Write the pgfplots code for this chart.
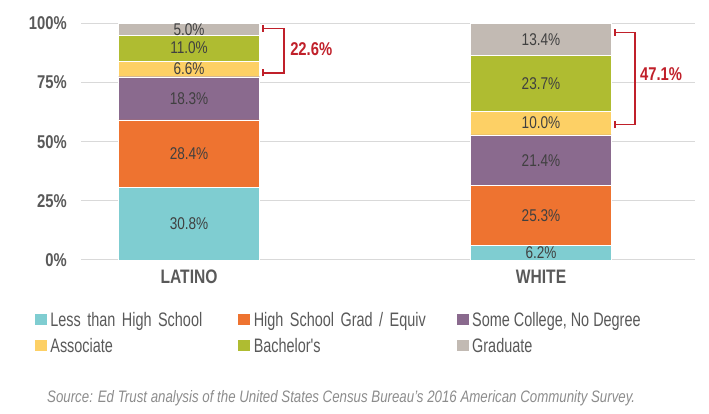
\documentclass[border=0pt]{standalone}
\usepackage{fontspec}
\setmainfont{Liberation Sans}[FakeStretch=0.8]
\newfontfamily\legfont{Liberation Sans}[FakeStretch=0.74]
\usepackage{pgfplots}
\usepackage{pgfplotstable}
\pgfplotsset{compat=1.18}
\definecolor{cLt}{HTML}{7FCDD1}
\definecolor{cHs}{HTML}{EE7330}
\definecolor{cSc}{HTML}{8A6A8E}
\definecolor{cAs}{HTML}{FDD065}
\definecolor{cBa}{HTML}{AFBC31}
\definecolor{cGr}{HTML}{C2BAB3}
\definecolor{labgray}{HTML}{404040}
\definecolor{tickgray}{HTML}{595959}
\definecolor{gridgray}{HTML}{D9D9D9}
\definecolor{annred}{HTML}{C0202A}
\definecolor{srcgray}{HTML}{8C8C8C}
\pgfplotstableread{
x lt hs sc as ba gr
0 30.8 28.4 18.3 6.6 11.0 5.0
1 6.2 25.3 21.4 10.0 23.7 13.4
}\datatable
\pgfplotsset{
  seg/.style 2 args={fill=#1, draw=white, line width=0.4bp,
    visualization depends on={\thisrow{#2} \as \rawy},
    legend image code/.code={\fill[#1] (0bp,-5bp) rectangle (11bp,5bp);}},
}
\begin{document}
\begin{tikzpicture}
\path[use as bounding box] (0,0) rectangle (709bp,414bp);
\begin{axis}[
  at={(81bp,154bp)}, anchor=south west,
  scale only axis, width=614bp, height=236.5bp,
  ybar stacked, bar width=141bp,
  xmin=-0.307, xmax=1.4375, ymin=0, ymax=100,
  clip=false,
  axis line style={draw=none},
  major tick length=0pt,
  ymajorgrids, grid style={gridgray, line width=1bp},
  ytick={0,25,50,75,100},
  yticklabel={\pgfmathprintnumber{\tick}\%},
  /pgf/number format/assume math mode=true,
  yticklabel style={font=\fontsize{18.5bp}{20bp}\selectfont\bfseries, text=tickgray, inner sep=0pt, anchor=east, xshift=-14bp},
  xtick={0,1}, xticklabels={LATINO,WHITE},
  xticklabel style={font=\fontsize{19.5bp}{22bp}\selectfont\bfseries, text=tickgray, inner sep=0pt, anchor=north, yshift=-10bp},
  nodes near coords={\pgfmathprintnumber[fixed,fixed zerofill,precision=1]{\rawy}\%},
  every node near coord/.append style={anchor=center, inner sep=0pt,
    font=\fontsize{17bp}{20bp}\selectfont, text=labgray},
  legend columns=3,
  legend style={draw=none, fill=none, inner sep=0pt, outer sep=0pt,
    at={(axis description cs:0,0)}, anchor=north west, xshift=-46bp, yshift=-50bp,
    row sep=8bp,
    nodes={inner sep=0pt, anchor=west, text height=16bp, text depth=2bp, align=left,
      font=\legfont\fontsize{19.5bp}{22bp}\selectfont, text=tickgray},
    /tikz/every odd column/.style={column sep=4bp},
    /tikz/column 2/.style={text width=188bp},
    /tikz/column 4/.style={text width=203bp},
  },
]
\addplot[seg={cLt}{lt}] table[x=x,y=lt]{\datatable};
\addplot[seg={cHs}{hs}] table[x=x,y=hs]{\datatable};
\addplot[seg={cSc}{sc}] table[x=x,y=sc]{\datatable};
\addplot[seg={cAs}{as}] table[x=x,y=as]{\datatable};
\addplot[seg={cBa}{ba}] table[x=x,y=ba]{\datatable};
\addplot[seg={cGr}{gr}] table[x=x,y=gr]{\datatable};
\legend{Less than High School, High School Grad / Equiv, {Some College, No Degree}, Associate, Bachelor's, Graduate}
% brackets
\draw[annred, line width=1.3bp] (axis cs:0.210,97.9) -- (axis cs:0.270,97.9) -- (axis cs:0.270,79.1) -- (axis cs:0.210,79.1);
\draw[annred, line width=1.5bp] ([yshift=-3.5bp]axis cs:0.210,97.9) -- ([yshift=3.5bp]axis cs:0.210,97.9);
\draw[annred, line width=1.5bp] ([yshift=-3.5bp]axis cs:0.210,79.1) -- ([yshift=3.5bp]axis cs:0.210,79.1);
\node[annred, font=\fontsize{18.5bp}{20bp}\selectfont\bfseries, anchor=west, inner sep=0pt] at (axis cs:0.287,89.2) {22.6\%};
\draw[annred, line width=1.3bp] (axis cs:1.210,96.2) -- (axis cs:1.267,96.2) -- (axis cs:1.267,57.2) -- (axis cs:1.210,57.2);
\draw[annred, line width=1.5bp] ([yshift=-3.5bp]axis cs:1.210,96.2) -- ([yshift=3.5bp]axis cs:1.210,96.2);
\draw[annred, line width=1.5bp] ([yshift=-3.5bp]axis cs:1.210,57.2) -- ([yshift=3.5bp]axis cs:1.210,57.2);
\node[annred, font=\fontsize{18.5bp}{20bp}\selectfont\bfseries, anchor=west, inner sep=0pt] at (axis cs:1.281,78.6) {47.1\%};
\end{axis}
\node[anchor=west, inner sep=0pt, text=srcgray, font=\fontsize{16.6bp}{20bp}\selectfont\itshape] at (47bp,16bp) {Source: Ed Trust analysis of the United States Census Bureau's 2016 American Community Survey.};
\end{tikzpicture}
\end{document}
